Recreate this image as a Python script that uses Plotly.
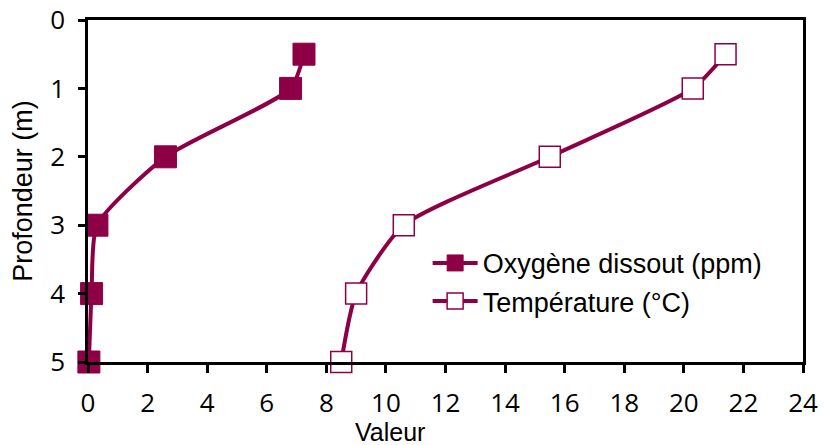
import plotly.graph_objects as go

depth = [0.5, 1, 2, 3, 4, 5]
oxygen = [7.25, 6.8, 2.6, 0.3, 0.12, 0.03]
temperature = [21.4, 20.3, 15.5, 10.6, 9.0, 8.5]
x_ticks = list(range(0, 25, 2))
y_ticks = [0, 1, 2, 3, 4, 5]

color = "#8E0046"

fig = go.Figure()
fig.add_trace(go.Scatter(
    x=oxygen, y=depth, mode="lines+markers", name="Oxygène dissout (ppm)",
    line=dict(color=color, width=4, shape="spline", smoothing=0.6),
    marker=dict(symbol="square", size=22, color=color, line=dict(color=color, width=1)),
    cliponaxis=False,
))
fig.add_trace(go.Scatter(
    x=temperature, y=depth, mode="lines+markers", name="Température (°C)",
    line=dict(color=color, width=4, shape="spline", smoothing=0.6),
    marker=dict(symbol="square", size=21, color="white", line=dict(color=color, width=1.5)),
    cliponaxis=False,
))

fig.update_layout(
    width=810, height=437,
    margin=dict(l=80, r=15, t=12, b=83, autoexpand=False),
    paper_bgcolor="white", plot_bgcolor="white",
    showlegend=True,
    legend=dict(x=0.475, y=0.36, xanchor="left", yanchor="top",
                font=dict(family="Liberation Sans, Arial", size=27, color="black"),
                bgcolor="rgba(0,0,0,0)", itemwidth=45, tracegroupgap=0),
    font=dict(family="Liberation Sans, Arial", color="black"),
    annotations=[dict(
        text="Valeur", xref="paper", yref="paper", x=0.422, y=0, yshift=-70,
        xanchor="center", yanchor="middle", showarrow=False,
        font=dict(family="Liberation Sans, Arial", size=25, color="black"),
    )],
)
fig.update_xaxes(
    range=[0, 24], tickvals=x_ticks, ticks="outside", ticklen=8, tickwidth=2.5, tickcolor="black",
    showline=True, linecolor="black", linewidth=2.5, mirror=True, showgrid=False, zeroline=False,
    automargin=False, ticklabeloverflow="allow", ticklabelstandoff=8,
    tickfont=dict(family="Open Sans", size=26, color="black"),
)
fig.update_yaxes(
    range=[5, 0], tickvals=y_ticks, ticks="outside", ticklen=7, tickwidth=2.5, tickcolor="black",
    showline=True, linecolor="black", linewidth=2.5, mirror=True, showgrid=False, zeroline=False,
    automargin=False, ticklabeloverflow="allow", ticklabelstandoff=8,
    tickfont=dict(family="Open Sans", size=26, color="black"),
    title=dict(text="Profondeur (m)", font=dict(size=27, color="black"), standoff=10),
)

fig.write_html("out.html")
